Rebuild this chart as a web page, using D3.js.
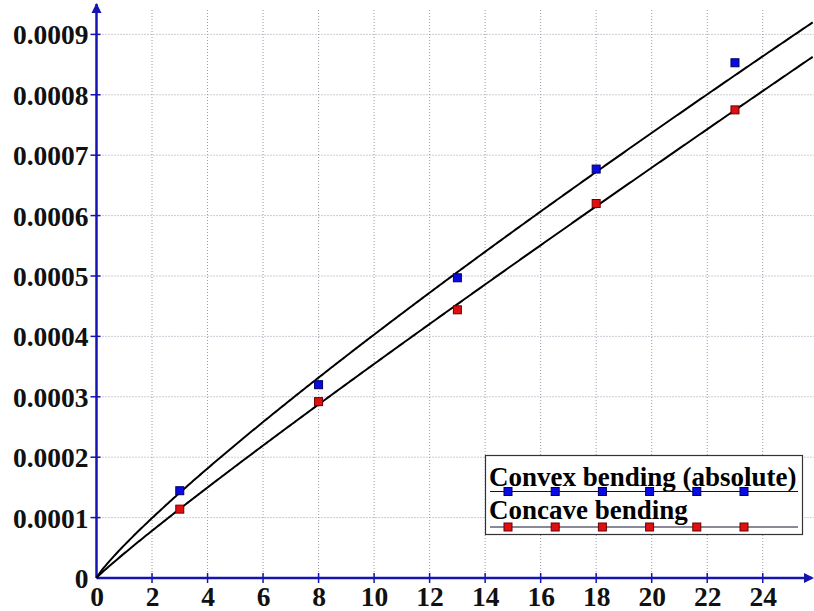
<!DOCTYPE html>
<html>
<head>
<meta charset="utf-8">
<script src="https://cdn.jsdelivr.net/npm/d3@7/dist/d3.min.js"></script>
<style>
  html, body { margin: 0; padding: 0; background: #ffffff; }
  svg { display: block; }
</style>
</head>
<body>
<svg id="chart" width="814" height="611"></svg>
<script>
// Measured points for the two bending modes
const xValues = [3, 8, 13, 18, 23];
const convexValues = [0.0001445, 0.00032, 0.000497, 0.000677, 0.000853];
const concaveValues = [0.000114, 0.000292, 0.000444, 0.00062, 0.000775];
const seriesNames = ["Convex bending (absolute)", "Concave bending"];
const xTicks = [0, 2, 4, 6, 8, 10, 12, 14, 16, 18, 20, 22, 24];
const yTicks = [0, 0.0001, 0.0002, 0.0003, 0.0004, 0.0005, 0.0006, 0.0007, 0.0008, 0.0009];
const xMax = 25.8;
const yMax = 0.000942;

const svg = d3.select("#chart");
const W = 814, H = 611;
const plotLeft = 96.5, plotBottom = 578, plotRight = 812.7, plotTop = 9;

const x = d3.scaleLinear().domain([0, xMax]).range([plotLeft, plotRight]);
const y = d3.scaleLinear().domain([0, yMax]).range([plotBottom, plotTop]);

const axisColor = "#1414b4";
const serif = '"Liberation Serif"';

// Power-law trend y = a * x^b fitted by least squares in log-log space
function powerFit(xs, ys) {
  const lx = xs.map(Math.log), ly = ys.map(Math.log);
  const mx = d3.mean(lx), my = d3.mean(ly);
  let sxy = 0, sxx = 0;
  lx.forEach((v, i) => { sxy += (v - mx) * (ly[i] - my); sxx += (v - mx) * (v - mx); });
  const b = sxy / sxx;
  const a = Math.exp(my - b * mx);
  return t => a * Math.pow(t, b);
}

// grid
const grid = svg.append("g");
grid.selectAll("line.v").data(xTicks.filter(d => d > 0)).enter().append("line")
  .attr("x1", d => x(d)).attr("x2", d => x(d))
  .attr("y1", plotBottom).attr("y2", 8)
  .attr("stroke", "#9a9aaa").attr("stroke-width", 1).attr("stroke-dasharray", "1,2");
grid.selectAll("line.h").data(yTicks.filter(d => d > 0)).enter().append("line")
  .attr("x1", plotLeft).attr("x2", W)
  .attr("y1", d => y(d)).attr("y2", d => y(d))
  .attr("stroke", "#9a9aaa").attr("stroke-width", 1).attr("stroke-dasharray", "1,2");

// axes via d3 axis generators, restyled
const xAxis = d3.axisBottom(x).tickValues(xTicks).tickSize(0).tickFormat(d3.format("d"));
const yAxis = d3.axisLeft(y).tickValues(yTicks).tickSize(0).tickFormat(d => d === 0 ? "0" : d.toFixed(4));

function styleLabels(sel, size) {
  sel.style("font-family", serif).style("font-weight", "bold").style("font-size", size + "px")
    .attr("fill", "#111");
}

const gx = svg.append("g").attr("transform", `translate(0,${plotBottom})`).call(xAxis);
gx.select(".domain").remove();
gx.selectAll("text").attr("y", 28).attr("dy", 0).call(styleLabels, 27.5);

const gy = svg.append("g").attr("transform", `translate(${plotLeft},0)`).call(yAxis);
gy.select(".domain").remove();
gy.selectAll("text").attr("x", -8).attr("dy", 9.5).call(styleLabels, 27.5);

// tick marks crossing the axes
svg.append("g").selectAll("line").data(xTicks.filter(d => d > 0)).enter().append("line")
  .attr("x1", d => x(d)).attr("x2", d => x(d)).attr("y1", plotBottom - 5).attr("y2", plotBottom + 5)
  .attr("stroke", axisColor).attr("stroke-width", 1.5);
svg.append("g").selectAll("line").data(yTicks.filter(d => d > 0)).enter().append("line")
  .attr("x1", plotLeft - 6).attr("x2", plotLeft + 4).attr("y1", d => y(d)).attr("y2", d => y(d))
  .attr("stroke", axisColor).attr("stroke-width", 1.5);

// axis lines with arrowheads
svg.append("line").attr("x1", plotLeft).attr("x2", W - 2).attr("y1", plotBottom).attr("y2", plotBottom)
  .attr("stroke", axisColor).attr("stroke-width", 2.5);
svg.append("line").attr("x1", plotLeft).attr("x2", plotLeft).attr("y1", plotBottom).attr("y2", 4)
  .attr("stroke", axisColor).attr("stroke-width", 2.5);
svg.append("path").attr("d", `M${plotLeft - 5},${13} L${plotLeft},${3} L${plotLeft + 5},${13} Z`).attr("fill", axisColor);
svg.append("path").attr("d", `M${W - 10},${plotBottom - 5} L${W},${plotBottom} L${W - 10},${plotBottom + 5} Z`).attr("fill", axisColor);

// trend curves
const fits = [powerFit(xValues, convexValues), powerFit(xValues, concaveValues)];
const samples = d3.range(0, 401).map(i => i / 400 * xMax);
const line = d3.line().x(d => x(d[0])).y(d => y(d[1]));
fits.forEach(f => {
  svg.append("path")
    .attr("d", line(samples.map(t => [t, t === 0 ? 0 : f(t)])))
    .attr("fill", "none").attr("stroke", "#000").attr("stroke-width", 2);
});

// markers
const styles = [
  { fill: "#0a0ae6", stroke: "#00005a" },
  { fill: "#e01010", stroke: "#6a0000" }
];
[convexValues, concaveValues].forEach((vals, si) => {
  svg.append("g").selectAll("rect").data(vals).enter().append("rect")
    .attr("x", (d, i) => x(xValues[i]) - 4).attr("y", d => y(d) - 4)
    .attr("width", 8).attr("height", 8)
    .attr("fill", styles[si].fill).attr("stroke", styles[si].stroke).attr("stroke-width", 1);
});

// legend
const lg = svg.append("g");
lg.append("rect").attr("x", 485.5).attr("y", 455.5).attr("width", 317).attr("height", 79)
  .attr("fill", "#fff").attr("stroke", "#333").attr("stroke-width", 1.2);
const rows = [{ ty: 486, ly: 491.5, lineColor: "#0c0c50" }, { ty: 519, ly: 527, lineColor: "#151530" }];
seriesNames.forEach((name, si) => {
  const r = rows[si];
  lg.append("text").attr("x", 489).attr("y", r.ty).text(name)
    .call(styleLabels, 27).attr("fill", "#000");
  lg.append("line").attr("x1", 490).attr("x2", 798).attr("y1", r.ly).attr("y2", r.ly)
    .attr("stroke", r.lineColor).attr("stroke-width", 1.2);
  lg.selectAll(null).data(d3.range(6)).enter().append("rect")
    .attr("x", k => 508 + k * 47.2 - 4).attr("y", r.ly - 4).attr("width", 8).attr("height", 8)
    .attr("fill", styles[si].fill).attr("stroke", styles[si].stroke).attr("stroke-width", 1);
});
</script>
</body>
</html>
